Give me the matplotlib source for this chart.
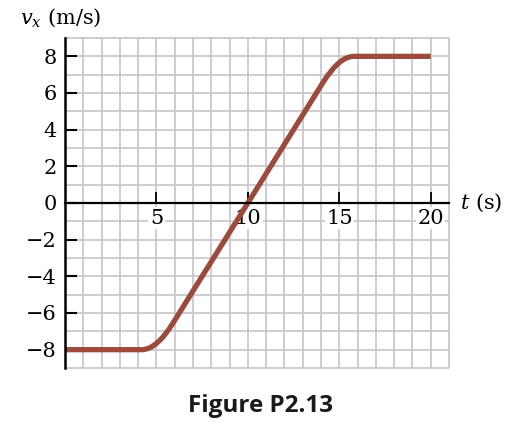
import matplotlib
matplotlib.use("Agg")
import matplotlib.pyplot as plt
from matplotlib.path import Path
from matplotlib.patches import PathPatch

# Data: velocity-time key points (corners are rounded when drawn)
t_pts = [0, 5, 15, 20]
v_pts = [-8, -8, 8, 8]
x_ticks = [5, 10, 15, 20]
y_ticks = [-8, -6, -4, -2, 0, 2, 4, 6, 8]
y_ticklabels = ["\u22128", "\u22126", "\u22124", "\u22122", "0", "2", "4", "6", "8"]

plt.rcParams['mathtext.fontset'] = 'dejavuserif'
fig = plt.figure(figsize=(5.13, 4.32), dpi=100)
ax = fig.add_axes([65/513, 1-368/432, (449-65)/513, (368-38)/432])
ax.set_xlim(0, 21)
ax.set_ylim(-9, 9)

grid_c = '#c9c9c9'
ax.vlines(range(1, 22), -9, 9, color=grid_c, lw=1.3, zorder=0.5, clip_on=False)
ax.hlines(range(-9, 10), 0, 21, color=grid_c, lw=1.3, zorder=0.5, clip_on=False)

# rounded-corner path through key points
r = 0.09
verts = [(t_pts[0], v_pts[0])]
codes = [Path.MOVETO]
for i in range(1, len(t_pts) - 1):
    p0 = (t_pts[i-1], v_pts[i-1]); p1 = (t_pts[i], v_pts[i]); p2 = (t_pts[i+1], v_pts[i+1])
    if i == 1:
        a = (p1[0] - 0.8, p1[1])
        b = (p1[0] + (p2[0]-p1[0])*r, p1[1] + (p2[1]-p1[1])*r)
    else:
        a = (p1[0] + (p0[0]-p1[0])*r, p1[1] + (p0[1]-p1[1])*r)
        b = (p1[0] + 0.8, p1[1])
    verts += [a, p1, b]
    codes += [Path.LINETO, Path.CURVE3, Path.CURVE3]
verts.append((t_pts[-1], v_pts[-1]))
codes.append(Path.LINETO)
ax.add_patch(PathPatch(Path(verts, codes), facecolor='none', edgecolor='#9b4a3c',
                       lw=3.8, capstyle='butt', joinstyle='round', zorder=2))

for s in ['top', 'right']:
    ax.spines[s].set_visible(False)
ax.spines['bottom'].set_position(('data', 0))
ax.spines['left'].set_linewidth(1.8)
ax.spines['bottom'].set_linewidth(1.6)
ax.spines['left'].set_zorder(3)
ax.spines['bottom'].set_zorder(3)

tick_font = dict(family='DejaVu Serif', size=15)
ax.set_xticks(x_ticks)
ax.set_xticklabels([str(v) for v in x_ticks], fontdict=tick_font)
ax.set_yticks(y_ticks)
ax.set_yticklabels(y_ticklabels, fontdict=tick_font)
ax.tick_params(axis='x', direction='in', length=8, width=1.3, pad=4)
ax.tick_params(axis='y', direction='in', length=8.5, width=1.5, pad=6)
for lab in ax.get_xticklabels():
    lab.set_bbox(dict(facecolor='white', edgecolor='none', pad=1.0))

fig.text(20/513, 1-18/432, r'$v_x$ (m/s)', family='DejaVu Serif', fontsize=15,
         ha='left', va='center')
fig.text(460/513, 1-203/432, r'$t$ (s)', family='DejaVu Serif', fontsize=15,
         ha='left', va='center')
fig.text(261/513, 1-406/432, 'Figure P2.13', family='Open Sans', fontweight='bold',
         fontsize=17.5, ha='center', va='center', color='#1a1a1a')

fig.savefig('out.png', dpi=100)
